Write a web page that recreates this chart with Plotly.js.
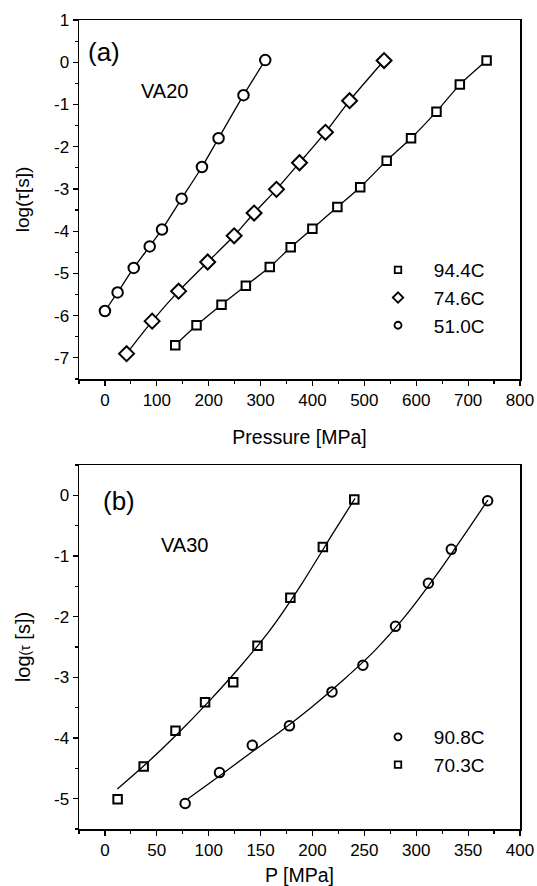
<!DOCTYPE html>
<html><head><meta charset="utf-8">
<script src="https://cdn.plot.ly/plotly-3.0.1.min.js"></script>
<style>html,body{margin:0;padding:0;background:#fff}#g{width:537px;height:886px}</style>
</head><body><div id="g"></div>
<script>
// ---- Panel (a): VA20 ----
const a_P_944 = [135.5, 176.5, 224.7, 271.6, 317.7, 358, 399.8, 448, 492, 543, 590, 639, 684, 735.6];
const a_L_944 = [-6.70, -6.23, -5.74, -5.29, -4.85, -4.38, -3.94, -3.43, -2.96, -2.33, -1.80, -1.17, -0.53, 0.04];
const a_P_746 = [41.7, 91, 142, 198, 249, 287.5, 330.6, 375, 425, 471.5, 538];
const a_L_746 = [-6.90, -6.13, -5.42, -4.73, -4.11, -3.57, -3.01, -2.38, -1.66, -0.91, 0.04];
const a_P_510 = [0, 24.4, 55.5, 86.3, 110, 147.8, 187, 219, 267, 309];
const a_L_510 = [-5.89, -5.45, -4.87, -4.36, -3.96, -3.23, -2.48, -1.80, -0.78, 0.05];
const a_xticks = [0, 100, 200, 300, 400, 500, 600, 700, 800];
const a_yticks = [1, 0, -1, -2, -3, -4, -5, -6, -7];

// ---- Panel (b): VA30 ----
const b_P_703 = [12.2, 37.3, 68, 96.5, 123.6, 147, 178.7, 210, 240.3];
const b_L_703 = [-5.01, -4.47, -3.88, -3.41, -3.08, -2.48, -1.69, -0.85, -0.07];
const b_P_908 = [77.3, 110.4, 142, 177.8, 218.8, 248.6, 280, 311.7, 333.8, 368.8];
const b_L_908 = [-5.08, -4.57, -4.12, -3.80, -3.24, -2.80, -2.16, -1.45, -0.89, -0.09];
// fitted curves
const b_fitP_703 = [12, 40, 70, 100, 130, 160, 190, 220, 241];
const b_fitL_703 = [-4.84, -4.42, -3.93, -3.40, -2.83, -2.20, -1.45, -0.62, -0.05];
const b_fitP_908 = [80, 110, 140, 170, 200, 230, 260, 290, 320, 350, 369];
const b_fitL_908 = [-5.00, -4.63, -4.25, -3.88, -3.48, -3.04, -2.56, -1.98, -1.30, -0.56, -0.08];
const b_xticks = [0, 50, 100, 150, 200, 250, 300, 350, 400];
const b_yticks = [0, -1, -2, -3, -4, -5];

const FONT = 'Liberation Sans, Arial, sans-serif';
const lab = v => String(v);
const PAD = '\u00a0\u00a0\u00a0';

function lineTrace(x, y, xa, ya) {
  return {x, y, xaxis: xa, yaxis: ya, mode: 'lines', showlegend: false, hoverinfo: 'skip',
    line: {color: '#000', width: 1.3, shape: 'spline', smoothing: 0.6}};
}
function markTrace(x, y, xa, ya, sym, size, fill) {
  return {x, y, xaxis: xa, yaxis: ya, mode: 'markers', showlegend: false,
    marker: {symbol: sym, size, color: fill, line: {color: '#000', width: 2}}};
}
// legend-only keys (smaller symbols like in the reference legend)
function keyTrace(name, sym, size, xa, ya, legend) {
  return {x: [null], y: [null], xaxis: xa, yaxis: ya, name: PAD + name, mode: 'markers', legend,
    marker: {symbol: sym, size, color: '#fff', line: {color: '#000', width: 1.8}}};
}

const data = [
  lineTrace(a_P_944, a_L_944, 'x', 'y'),
  lineTrace(a_P_746, a_L_746, 'x', 'y'),
  lineTrace(a_P_510, a_L_510, 'x', 'y'),
  markTrace(a_P_944, a_L_944, 'x', 'y', 'square', 8.5, '#fff'),
  markTrace(a_P_746, a_L_746, 'x', 'y', 'diamond', 11.5, '#fff'),
  markTrace(a_P_510, a_L_510, 'x', 'y', 'circle', 10.5, '#fff'),
  keyTrace('94.4C', 'square', 6.5, 'x', 'y', 'legend'),
  keyTrace('74.6C', 'diamond', 8, 'x', 'y', 'legend'),
  keyTrace('51.0C', 'circle', 7, 'x', 'y', 'legend'),
  lineTrace(b_fitP_703, b_fitL_703, 'x2', 'y2'),
  lineTrace(b_fitP_908, b_fitL_908, 'x2', 'y2'),
  markTrace(b_P_908, b_L_908, 'x2', 'y2', 'circle-open', 9.5, '#000'),
  markTrace(b_P_703, b_L_703, 'x2', 'y2', 'square-open', 8.5, '#000'),
  keyTrace('90.8C', 'circle', 7, 'x2', 'y2', 'legend2'),
  keyTrace('70.3C', 'square', 6.5, 'x2', 'y2', 'legend2')
];

const common = {
  showline: true, mirror: true, linecolor: '#000', linewidth: 1.5,
  ticks: 'outside', ticklen: 5, tickwidth: 1.2, tickcolor: '#000',
  showgrid: false, zeroline: false, automargin: false,
  tickfont: {family: FONT, size: 17, color: '#000'}
};
const minorY = {dtick: 0.5, ticks: 'outside', ticklen: 3, tickcolor: '#000', tickwidth: 1.2};

const layout = {
  width: 537, height: 886,
  margin: {l: 0, r: 0, t: 0, b: 0},
  paper_bgcolor: '#fff', plot_bgcolor: '#fff',
  font: {family: FONT, color: '#000'},
  xaxis: Object.assign({}, common, {
    domain: [79/537, 520/537], anchor: 'y', range: [-50, 800],
    tickvals: a_xticks, ticktext: a_xticks.map(lab),
    minor: {dtick: 50, ticks: 'outside', ticklen: 3, tickcolor: '#000', tickwidth: 1.2},
    title: {text: 'Pressure [MPa]', font: {family: FONT, size: 19.5}, standoff: 21}
  }),
  yaxis: Object.assign({}, common, {
    domain: [1 - 379/886, 1 - 20/886], anchor: 'x', range: [-7.5, 1],
    tickvals: a_yticks, ticktext: a_yticks.map(lab),
    minor: minorY,
    title: {text: 'log(τ[s])', font: {family: FONT, size: 19}, standoff: 19}
  }),
  xaxis2: Object.assign({}, common, {
    domain: [79/537, 520/537], anchor: 'y2', range: [-25, 400],
    tickvals: b_xticks, ticktext: b_xticks.map(lab),
    minor: {dtick: 25, ticks: 'outside', ticklen: 3, tickcolor: '#000', tickwidth: 1.2},
    title: {text: 'P [MPa]', font: {family: FONT, size: 19.5}, standoff: 26}
  }),
  yaxis2: Object.assign({}, common, {
    domain: [1 - 829/886, 1 - 465/886], anchor: 'x2', range: [-5.5, 0.5],
    tickvals: b_yticks, ticktext: b_yticks.map(lab),
    minor: minorY,
    title: {text: 'log<span style="font-size:14px">(τ</span> [s])', font: {family: FONT, size: 20}, standoff: 18}
  }),
  legend: {x: 378/537, y: 1 - 251/886, xanchor: 'left', yanchor: 'top', bgcolor: 'rgba(0,0,0,0)',
    font: {family: FONT, size: 19}, tracegroupgap: 0, itemwidth: 30},
  legend2: {x: 378/537, y: 1 - 718/886, xanchor: 'left', yanchor: 'top', bgcolor: 'rgba(0,0,0,0)',
    font: {family: FONT, size: 19}, tracegroupgap: 0, itemwidth: 30},
  annotations: [
    {text: '(a)', xref: 'paper', yref: 'paper', x: 86/537, y: 1 - 52/886, xanchor: 'left', yanchor: 'middle', showarrow: false, font: {family: FONT, size: 26}},
    {text: 'VA20', xref: 'paper', yref: 'paper', x: 139/537, y: 1 - 91/886, xanchor: 'left', yanchor: 'middle', showarrow: false, font: {family: FONT, size: 20}},
    {text: '(b)', xref: 'paper', yref: 'paper', x: 101/537, y: 1 - 501/886, xanchor: 'left', yanchor: 'middle', showarrow: false, font: {family: FONT, size: 26}},
    {text: 'VA30', xref: 'paper', yref: 'paper', x: 159/537, y: 1 - 545/886, xanchor: 'left', yanchor: 'middle', showarrow: false, font: {family: FONT, size: 20}}
  ]
};

Plotly.newPlot('g', data, layout, {staticPlot: true, displayModeBar: false});
</script></body></html>
